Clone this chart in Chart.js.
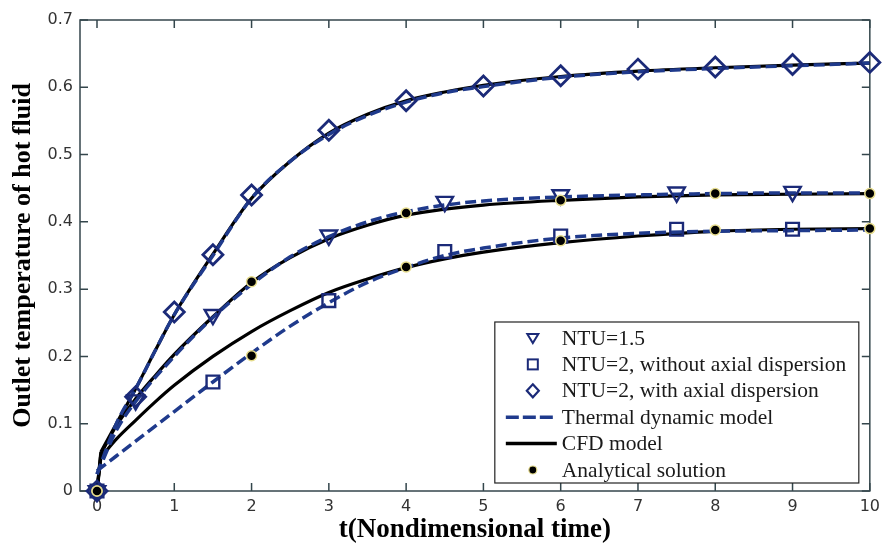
<!DOCTYPE html>
<html><head><meta charset="utf-8">
<script src="https://cdn.jsdelivr.net/npm/chart.js@4.4.1/dist/chart.umd.min.js"></script>
<style>html,body{margin:0;padding:0;background:#fff;}#wrap{width:886px;height:544px;}</style>
</head><body><div id="wrap"><canvas id="c" width="886" height="544"></canvas></div>
<script>
// ---------- data ----------
const xTicks = [0,1,2,3,4,5,6,7,8,9,10];
const yTicks = [0,0.1,0.2,0.3,0.4,0.5,0.6,0.7];
const yTickLabels = ['0','0.1','0.2','0.3','0.4','0.5','0.6','0.7'];
const xTitle = 't(Nondimensional time)';
const yTitle = 'Outlet temperature of hot fluid';
const seriesNames = ['NTU=1.5','NTU=2, without axial dispersion','NTU=2, with axial dispersion','Thermal dynamic model','CFD model','Analytical solution'];

// CFD model (solid curves); each curve starts at the origin
const cfdT        = [0.05,0.25,0.5,0.75,1,1.5,2,2.5,3,3.5,4,4.5,5,6,7,8,9,10];
const cfdNtu15    = [0.055,0.097,0.137,0.171,0.203,0.259,0.31,0.347,0.375,0.395,0.41,0.419,0.425,0.432,0.437,0.44,0.441,0.442];
const cfdNtu2NoAx = [0.05,0.077,0.105,0.132,0.157,0.2,0.237,0.268,0.295,0.315,0.332,0.345,0.355,0.369,0.379,0.386,0.389,0.39];
const cfdNtu2Ax   = [0.058,0.1,0.152,0.208,0.262,0.352,0.435,0.49,0.532,0.56,0.58,0.593,0.603,0.616,0.624,0.629,0.633,0.636];
const originT = [0, 0.05];

// Thermal dynamic model (dashed curves)
const thermT        = [0,0.25,0.5,1,1.5,2,2.5,3,3.5,4,4.5,5,6,7,8,9,10];
const thermNtu15    = [0.025,0.09,0.133,0.2,0.258,0.307,0.348,0.378,0.4,0.415,0.425,0.431,0.437,0.44,0.442,0.443,0.443];
const thermNtu2NoAx = [0.03,0.052,0.074,0.118,0.162,0.205,0.245,0.28,0.31,0.332,0.35,0.361,0.376,0.383,0.386,0.387,0.388];
const thermNtu2Ax   = [0.025,0.1,0.152,0.262,0.35,0.435,0.49,0.53,0.558,0.578,0.592,0.601,0.615,0.623,0.628,0.632,0.636];

// Markers
const triT = [0,0.5,1.5,3,4.5,6,7.5,9];
const triV = [0,0.135,0.262,0.38,0.43,0.44,0.444,0.445];
const sqT  = [0,1.5,3,4.5,6,7.5,9];
const sqV  = [0,0.162,0.283,0.356,0.379,0.389,0.389];
const diaT = [0,0.5,1,1.5,2,3,4,5,6,7,8,9,10];
const diaV = [0,0.14,0.266,0.351,0.44,0.536,0.58,0.602,0.617,0.627,0.63,0.634,0.637];

// Analytical solution
const anaT      = [0,2,4,6,8,10];
const anaNtu15  = [0,0.311,0.413,0.432,0.442,0.442];
const anaNtu2   = [0,0.201,0.333,0.372,0.388,0.39];

// ---------- styles ----------
const navy = '#1b2a78';
const dashNavy = '#1f3a8c';
const axisColor = '#34464c';
const halo = '#e6dc8c';

const pts = (xs, ys) => xs.map((x, i) => ({x, y: ys[i]}));

const dashed = (d) => ({data: d, showLine: true, borderColor: dashNavy, borderWidth: 3.5, borderDash: [11,5],
  pointRadius: 0, cubicInterpolationMode: 'monotone', order: 2, fill: false});
const solid = (d, mono) => ({data: d, showLine: true, borderColor: '#000', borderWidth: 3.2,
  pointRadius: 0, cubicInterpolationMode: mono ? 'monotone' : 'default', tension: 0, order: 3, fill: false, clip: false});

const datasets = [
  {label: seriesNames[5], data: pts(anaT, anaNtu15).concat(pts(anaT, anaNtu2)), showLine: false,
    pointStyle: 'circle', pointRadius: 5, backgroundColor: '#000', pointBorderColor: halo, pointBorderWidth: 1.5, order: 0, clip: false},
  {label: seriesNames[0], data: pts(triT, triV), showLine: false, pointStyle: 'triangle', rotation: 180,
    pointRadius: 9.5, pointBorderColor: navy, pointBackgroundColor: 'rgba(0,0,0,0)', pointBorderWidth: 2.4, order: 1, clip: false},
  {label: seriesNames[1], data: pts(sqT, sqV), showLine: false, pointStyle: 'rect',
    pointRadius: 9, pointBorderColor: navy, pointBackgroundColor: 'rgba(0,0,0,0)', pointBorderWidth: 2.4, order: 1, clip: false},
  {label: seriesNames[2], data: pts(diaT, diaV), showLine: false, pointStyle: 'rectRot',
    pointRadius: 10, pointBorderColor: navy, pointBackgroundColor: 'rgba(0,0,0,0)', pointBorderWidth: 2.8, order: 1, clip: false},
  Object.assign({label: seriesNames[3]}, dashed(pts(thermT, thermNtu15))),
  Object.assign({label: seriesNames[3]}, dashed(pts(thermT, thermNtu2NoAx))),
  Object.assign({label: seriesNames[3]}, dashed(pts(thermT, thermNtu2Ax))),
  Object.assign({label: seriesNames[4]}, solid(pts(cfdT, cfdNtu15), true)),
  Object.assign({label: seriesNames[4]}, solid(pts(cfdT, cfdNtu2NoAx), true)),
  Object.assign({label: seriesNames[4]}, solid(pts(cfdT, cfdNtu2Ax), true)),
  Object.assign({label: seriesNames[4]}, solid(pts(originT, [0, cfdNtu15[0]]), false)),
  Object.assign({label: seriesNames[4]}, solid(pts(originT, [0, cfdNtu2NoAx[0]]), false)),
  Object.assign({label: seriesNames[4]}, solid(pts(originT, [0, cfdNtu2Ax[0]]), false))
];

// frame with inward ticks on all four sides
const framePlugin = {
  id: 'frame',
  beforeDatasetsDraw(chart) {
    const {ctx, chartArea: a, scales: {x, y}} = chart;
    ctx.save();
    ctx.strokeStyle = axisColor; ctx.lineWidth = 1.5;
    ctx.strokeRect(a.left, a.top, a.right - a.left, a.bottom - a.top);
    ctx.beginPath();
    const L = 8;
    xTicks.forEach(v => { const p = x.getPixelForValue(v);
      ctx.moveTo(p, a.bottom); ctx.lineTo(p, a.bottom - L);
      ctx.moveTo(p, a.top); ctx.lineTo(p, a.top + L); });
    yTicks.forEach(v => { const p = y.getPixelForValue(v);
      ctx.moveTo(a.left, p); ctx.lineTo(a.left + L, p);
      ctx.moveTo(a.right, p); ctx.lineTo(a.right - L, p); });
    ctx.stroke();
    ctx.restore();
  }
};

// boxed legend in lower right of plot area
const legendPlugin = {
  id: 'boxLegend',
  afterDraw(chart) {
    const {ctx, chartArea: a} = chart;
    const bw = 364, bh = 161;
    const bx = a.right - 11 - bw, by = a.bottom - 8 - bh;
    ctx.save();
    ctx.fillStyle = '#fff';
    ctx.fillRect(bx, by, bw, bh);
    ctx.strokeStyle = '#222'; ctx.lineWidth = 1.2;
    ctx.strokeRect(bx, by, bw, bh);
    const rowH = 26.4, y0 = by + 16;
    const ix = bx + 38, tx = bx + 67;
    ctx.font = '21.5px "Liberation Serif"';
    ctx.textBaseline = 'middle';
    ctx.fillStyle = '#1a1a1a';
    seriesNames.forEach((name, i) => {
      const cy = y0 + i * rowH;
      ctx.save();
      if (i === 0) {
        ctx.strokeStyle = navy; ctx.lineWidth = 2;
        ctx.beginPath(); ctx.moveTo(ix - 5.5, cy - 4); ctx.lineTo(ix + 5.5, cy - 4); ctx.lineTo(ix, cy + 5); ctx.closePath(); ctx.stroke();
      } else if (i === 1) {
        ctx.strokeStyle = navy; ctx.lineWidth = 2;
        ctx.strokeRect(ix - 5, cy - 5, 10, 10);
      } else if (i === 2) {
        ctx.strokeStyle = navy; ctx.lineWidth = 2.2;
        ctx.beginPath(); ctx.moveTo(ix, cy - 6.5); ctx.lineTo(ix + 6, cy); ctx.lineTo(ix, cy + 6.5); ctx.lineTo(ix - 6, cy); ctx.closePath(); ctx.stroke();
      } else if (i === 3) {
        ctx.strokeStyle = dashNavy; ctx.lineWidth = 3.5; ctx.setLineDash([13,4]);
        ctx.beginPath(); ctx.moveTo(bx + 11, cy); ctx.lineTo(bx + 62, cy); ctx.stroke();
      } else if (i === 4) {
        ctx.strokeStyle = '#000'; ctx.lineWidth = 3.5;
        ctx.beginPath(); ctx.moveTo(bx + 11, cy); ctx.lineTo(bx + 62, cy); ctx.stroke();
      } else {
        ctx.fillStyle = '#000'; ctx.strokeStyle = halo; ctx.lineWidth = 1.2;
        ctx.beginPath(); ctx.arc(ix, cy, 4, 0, Math.PI * 2); ctx.fill(); ctx.stroke();
      }
      ctx.restore();
      ctx.fillText(name, tx, cy + 1);
    });
    ctx.restore();
  }
};

new Chart(document.getElementById('c'), {
  type: 'scatter',
  data: {datasets},
  options: {
    responsive: false, animation: false, devicePixelRatio: 1,
    layout: {padding: {top: 20, right: 12, left: 0, bottom: 0}},
    plugins: {legend: {display: false}, tooltip: {enabled: false}},
    scales: {
      x: {
        type: 'linear', min: -0.22, max: 10,
        afterBuildTicks: s => { s.ticks = xTicks.map(v => ({value: v})); },
        afterFit: s => { s.height = 53; },
        grid: {display: false, drawTicks: false, tickLength: 0},
        border: {display: false},
        ticks: {padding: 6, color: '#333', font: {family: 'DejaVu Sans', size: 16}, maxRotation: 0, autoSkip: false,
          callback: v => String(v)},
        title: {display: true, text: xTitle, color: '#000', font: {family: 'Liberation Serif', size: 27, weight: 'bold', lineHeight: 1}, padding: {top: 0, bottom: 0}}
      },
      y: {
        type: 'linear', min: 0, max: 0.7,
        afterBuildTicks: s => { s.ticks = yTicks.map(v => ({value: v})); },
        afterFit: s => { s.width = 80; },
        grid: {display: false, drawTicks: false, tickLength: 0},
        border: {display: false},
        ticks: {padding: 7, color: '#333', font: {family: 'DejaVu Sans', size: 16}, autoSkip: false,
          callback: (v, i) => yTickLabels[i]},
        title: {display: true, text: yTitle, color: '#000', font: {family: 'Liberation Serif', size: 26, weight: 'bold', lineHeight: 1}, padding: {top: 10, bottom: 0}}
      }
    }
  },
  plugins: [framePlugin, legendPlugin]
});
</script>
</body></html>
